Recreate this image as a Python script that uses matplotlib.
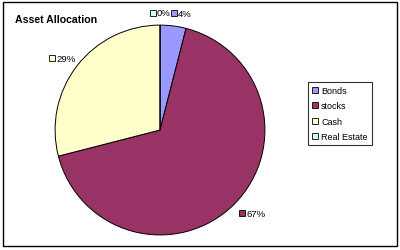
import numpy as np
import matplotlib.pyplot as plt
from matplotlib.patches import Rectangle

plt.rcParams['font.family'] = ['Liberation Sans', 'DejaVu Sans']

labels = ['Bonds', 'stocks', 'Cash', 'Real Estate']
values = [4, 67, 29, 0]
colors = ['#9999FF', '#993366', '#FFFFCC', '#CCFFFF']

fig = plt.figure(figsize=(4, 2.51), dpi=100)
fig.patch.set_facecolor('white')
fig.add_artist(Rectangle((0.008, 0.016), 0.984, 0.972, transform=fig.transFigure,
                         fill=False, edgecolor='black', linewidth=1))

ax = fig.add_axes([0.4 - 0.2625, 0.478 - 0.418, 0.525, 0.836])
wedges, _ = ax.pie(values, colors=colors, startangle=90, counterclock=False,
                   wedgeprops=dict(edgecolor='black', linewidth=0.7))
ax.set_xlim(-1, 1)
ax.set_ylim(-1, 1)
ax.set_aspect('equal')

# data labels outside each wedge, each with a small key square
total = sum(values)
start = 90.0
for v, c in zip(values, colors):
    sweep = 360.0 * v / total
    mid = np.deg2rad(start - sweep / 2)
    start -= sweep
    x, y = 1.12 * np.cos(mid), 1.12 * np.sin(mid)
    txt = f'{v / total:.0%}'
    w = 0.06 + 0.06 * len(txt)
    if abs(np.cos(mid)) < 0.05:
        left = x - w / 2
    elif np.cos(mid) > 0:
        left = x - 0.03
    else:
        left = x - w + 0.08
    ax.plot(left + 0.02, y, marker='s', ms=4, mfc=c, mec='black', mew=0.6, clip_on=False)
    ax.annotate(txt, (left + 0.02, y), xytext=(3, 0), textcoords='offset points',
                ha='left', va='center', fontsize=6.8, annotation_clip=False)

fig.text(0.038, 0.92, 'Asset Allocation', fontsize=7.6, fontweight='bold', va='center')

handles = [Rectangle((0, 0), 1, 1, facecolor=c, edgecolor='black', linewidth=0.6) for c in colors]
leg = fig.legend(handles, labels, loc='upper left', bbox_to_anchor=(0.77, 0.67),
                 fontsize=6.5, frameon=True, fancybox=False, handlelength=0.7,
                 handleheight=0.7, handletextpad=0.3, labelspacing=0.72,
                 borderpad=0.45, borderaxespad=0)
leg.get_frame().set_edgecolor('black')
leg.get_frame().set_linewidth(0.8)

fig.savefig('out.png', dpi=100)
